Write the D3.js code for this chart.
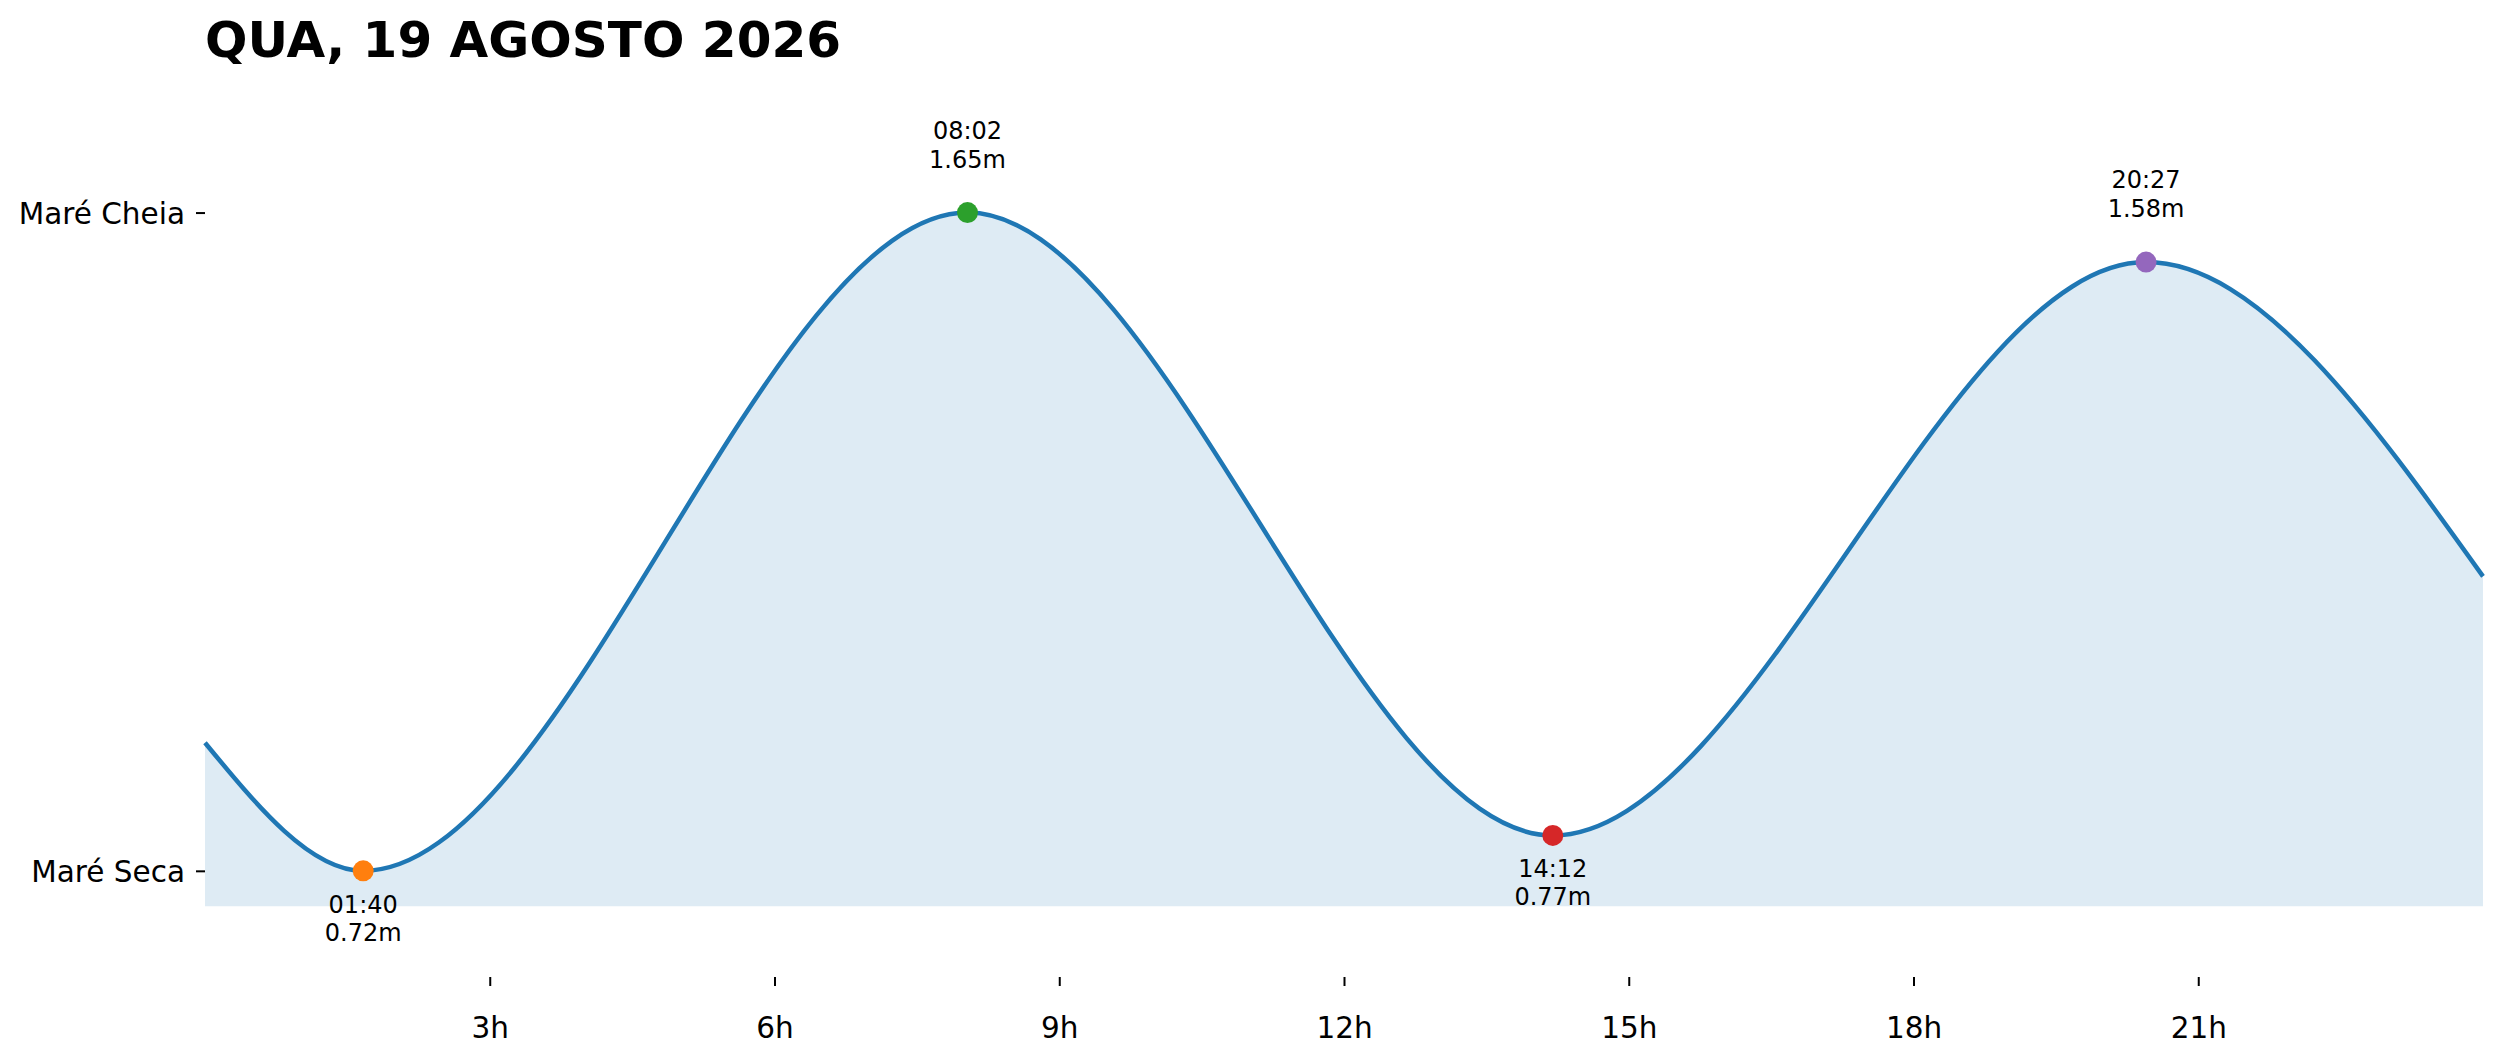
<!DOCTYPE html>
<html>
<head>
<meta charset="utf-8">
<script src="https://cdn.jsdelivr.net/npm/d3@7"></script>
<style>
  body { margin: 0; background: #fff; }
  svg { display: block; font-family: "DejaVu Sans", sans-serif; }
</style>
</head>
<body>
<svg width="2501" height="1062"></svg>
<script>
// title of the day
const chartTitle = "QUA, 19 AGOSTO 2026";

// high / low tide extremes
const extremeTimes = ["01:40", "08:02", "14:12", "20:27"];
const extremeHeights = [0.72, 1.65, 0.77, 1.58];
const extremeColors = ["#ff7f0e", "#2ca02c", "#d62728", "#9467bd"];

// level at the edges of the day (hour, metres)
const edgeHours = [0, 24];
const edgeHeights = [0.901, 1.136];

// axis ticks
const xTicks = [3, 6, 9, 12, 15, 18, 21];
const yTickLabels = ["Maré Seca", "Maré Cheia"];

function toHours(s) {
    const [h, m] = s.split(":").map(Number);
    return h + m / 60;
}

function drawTide() {
    const svg = d3.select("svg");
    svg.selectAll("*").remove();

    const area = { left: 205, right: 2483, top: 71, bottom: 977 };

    const extremes = extremeTimes.map((t, i) => ({
        label: t, hour: toHours(t), h: extremeHeights[i], color: extremeColors[i]
    }));

    // edge values + extremes, sorted by time
    const points = edgeHours.map((x, i) => ({ hour: x, h: edgeHeights[i] }))
        .concat(extremes.map(d => ({ hour: d.hour, h: d.h })))
        .sort((a, b) => a.hour - b.hour);

    const minH = d3.min(extremeHeights);
    const maxH = d3.max(extremeHeights);

    const scX = d3.scaleLinear().domain([0, 24]).range([area.left, area.right]);
    const scY = d3.scaleLinear().domain([minH - 0.15, maxH + 0.2]).range([area.bottom, area.top]);

    const fillBase = minH - 0.05;

    // filled area under the curve
    svg.append("path")
        .datum(points)
        .attr("d", d3.area()
            .x(d => scX(d.hour))
            .y0(scY(fillBase))
            .y1(d => scY(d.h))
            .curve(d3.curveMonotoneX))
        .style("fill", "#1f77b4")
        .style("fill-opacity", 0.15);

    // tide line
    svg.append("path")
        .datum(points)
        .attr("d", d3.line()
            .x(d => scX(d.hour))
            .y(d => scY(d.h))
            .curve(d3.curveMonotoneX))
        .style("fill", "none")
        .style("stroke", "#1f77b4")
        .style("stroke-width", 4.5);

    // x axis (no spine)
    const gx = svg.append("g")
        .attr("transform", `translate(0, ${area.bottom})`)
        .call(d3.axisBottom(scX)
            .tickValues(xTicks)
            .tickFormat(d => d + "h")
            .tickSizeOuter(0)
            .tickSize(9)
            .tickPadding(31));
    gx.select(".domain").remove();
    gx.selectAll("line").attr("stroke", "#000").attr("stroke-width", 2);
    gx.selectAll("text")
        .attr("fill", "#000")
        .style("font-size", "29.5px")
        .style("font-family", "DejaVu Sans");

    // y axis with two labels
    const gy = svg.append("g")
        .attr("transform", `translate(${area.left}, 0)`)
        .call(d3.axisLeft(scY)
            .tickValues([minH, maxH])
            .tickFormat((d, i) => yTickLabels[i])
            .tickSizeOuter(0)
            .tickSize(9)
            .tickPadding(11));
    gy.select(".domain").remove();
    gy.selectAll("line").attr("stroke", "#000").attr("stroke-width", 2);
    gy.selectAll("text")
        .attr("fill", "#000")
        .attr("dy", "0.37em")
        .style("font-size", "29.5px")
        .style("font-family", "DejaVu Sans");

    // extreme markers
    svg.selectAll("circle.ext")
        .data(extremes)
        .enter()
        .append("circle")
        .attr("class", "ext")
        .attr("cx", d => scX(d.hour))
        .attr("cy", d => scY(d.h))
        .attr("r", 10.5)
        .style("fill", d => d.color);

    // labels: above for highs, below for lows
    extremes.forEach((d, i) => {
        const isHigh = (i > 0 && d.h > extremes[i - 1].h) || (i === 0 && d.h > extremes[1].h);
        const cx = scX(d.hour);
        const cy = scY(d.h);
        const y1 = isHigh ? cy - 74 : cy + 42;
        const y2 = isHigh ? cy - 45 : cy + 70;
        svg.append("text")
            .attr("x", cx).attr("y", y1)
            .attr("text-anchor", "middle")
            .style("font-size", "24px")
            .text(d.label);
        svg.append("text")
            .attr("x", cx).attr("y", y2)
            .attr("text-anchor", "middle")
            .style("font-size", "24px")
            .text(d.h.toFixed(2) + "m");
    });

    // title
    svg.append("text")
        .attr("x", area.left)
        .attr("y", 57)
        .style("font-size", "50px")
        .style("font-weight", "bold")
        .text(chartTitle);
}

drawTide();
</script>
</body>
</html>
